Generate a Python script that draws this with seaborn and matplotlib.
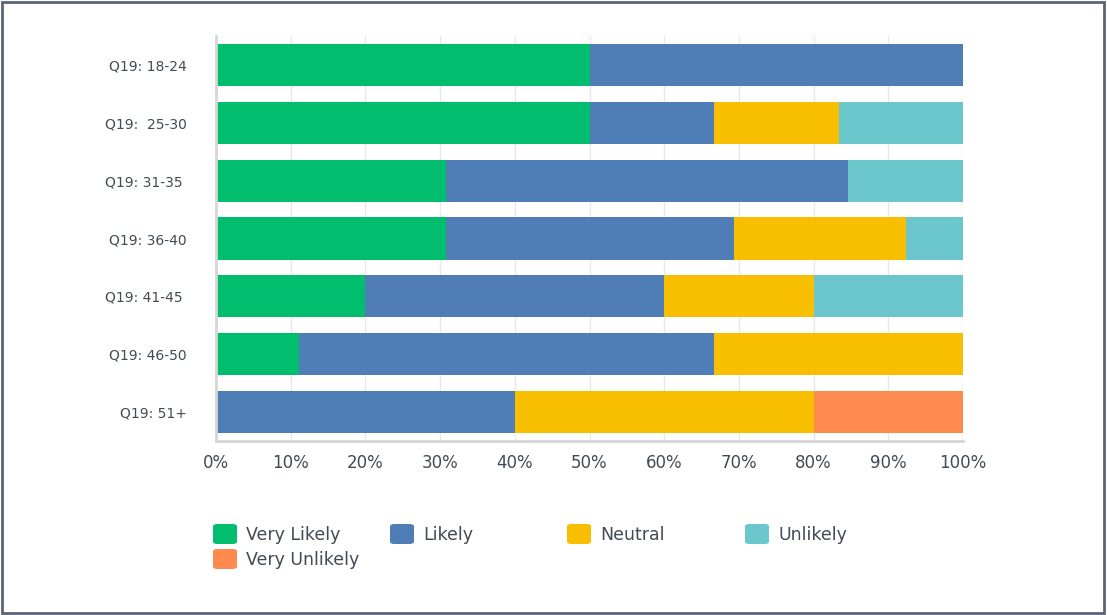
import numpy as np
import pandas as pd
import seaborn as sns
import matplotlib.pyplot as plt
from matplotlib.patches import FancyBboxPatch, Rectangle
from matplotlib.ticker import PercentFormatter

groups = ["Q19: 18-24", "Q19:  25-30", "Q19: 31-35 ", "Q19: 36-40",
          "Q19: 41-45 ", "Q19: 46-50", "Q19: 51+"]
responses = ["Very Likely", "Likely", "Neutral", "Unlikely", "Very Unlikely"]

very_likely = [50.0, 50.0, 30.8, 30.8, 20.0, 11.1, 0.0]
likely = [50.0, 16.7, 53.8, 38.5, 40.0, 55.6, 40.0]
neutral = [0.0, 16.7, 0.0, 23.1, 20.0, 33.3, 40.0]
unlikely = [0.0, 16.6, 15.4, 7.6, 20.0, 0.0, 0.0]
very_unlikely = [0.0, 0.0, 0.0, 0.0, 0.0, 0.0, 20.0]

colors = ["#00BE6E", "#4F7DB6", "#F8BE00", "#6BC7CC", "#FF8A50"]

series = [very_likely, likely, neutral, unlikely, very_unlikely]

sns.set_style("white")
plt.rcParams["font.family"] = ["DejaVu Sans"]
text_col = "#434a54"

fig = plt.figure(figsize=(11.07, 6.15), dpi=100)
ax = fig.add_axes([216 / 1107, 1 - 441 / 615, (963 - 216) / 1107, (441 - 36) / 615])

left = np.zeros(len(groups))
for resp, vals, col in zip(responses, series, colors):
    df = pd.DataFrame({"group": groups, "pct": vals})
    sns.barplot(data=df, x="pct", y="group", order=groups, color=col,
                width=0.73, errorbar=None, left=left.copy(),
                linewidth=0, saturation=1, ax=ax)
    left += np.array(vals)

ax.set_xlim(0, 100)
ax.set_ylim(len(groups) - 0.5, -0.5)
ax.set_xticks(np.arange(0, 101, 10))
ax.xaxis.set_major_formatter(PercentFormatter(decimals=0))
ax.set_xlabel("")
ax.set_ylabel("")
ax.grid(axis="x", color="#e8e8e8", linewidth=1)
ax.set_axisbelow(True)
for s in ["top", "right"]:
    ax.spines[s].set_visible(False)
ax.spines["left"].set_color("#d6d6d6")
ax.spines["left"].set_linewidth(2)
ax.spines["bottom"].set_color("#d6d6d6")
ax.spines["bottom"].set_linewidth(2)
ax.tick_params(axis="both", length=0)
ax.tick_params(axis="x", pad=9, labelsize=12, labelcolor=text_col)
ax.tick_params(axis="y", pad=21, labelsize=10, labelcolor=text_col)

# legend drawn by hand to keep even column spacing
leg_pos = [(213, 524), (390, 524), (567, 524), (745, 524), (213, 549)]
for (px, py), resp, col in zip(leg_pos, responses, colors):
    fig.patches.append(FancyBboxPatch(
        (px / 1107, 1 - (py + 20) / 615), 24 / 1107, 20 / 615,
        boxstyle="round,pad=0,rounding_size=0.004", transform=fig.transFigure,
        facecolor=col, edgecolor="none"))
    fig.text((px + 33) / 1107, 1 - (py + 11) / 615, resp, fontsize=12.5,
             color=text_col, va="center", ha="left")

fig.patches.append(Rectangle((0.0015, 0.003), 0.996, 0.993, transform=fig.transFigure,
                             fill=False, edgecolor="#5b6577", linewidth=2))

fig.savefig("out.png", dpi=100, facecolor="white")
